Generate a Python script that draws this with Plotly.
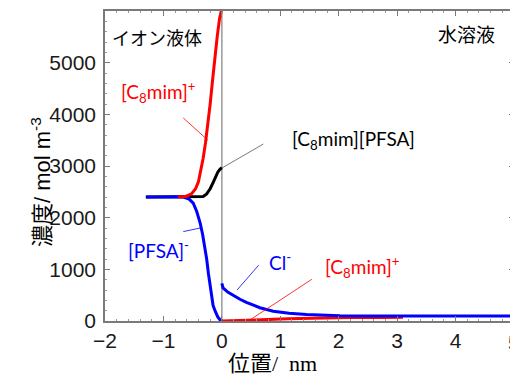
import plotly.graph_objects as go

# ---- data (position in nm, concentration in mol m^-3) ----
pair_x = [-1.3, -0.6, -0.4, -0.32, -0.26, -0.20, -0.15, -0.11, -0.07, -0.03, 0.0]
pair_y = [2400, 2400, 2400, 2410, 2460, 2560, 2680, 2790, 2880, 2940, 2965]

cat_il_x = [-0.75, -0.62, -0.52, -0.45, -0.40, -0.36, -0.32, -0.28, -0.24, -0.20, -0.16, -0.12, -0.08, -0.04, -0.01]
cat_il_y = [2400, 2410, 2460, 2560, 2700, 2900, 3150, 3450, 3800, 4200, 4650, 5100, 5500, 5850, 6000]

pfsa_x = [-1.3, -0.66, -0.56, -0.49, -0.43, -0.37, -0.33, -0.29, -0.26, -0.23, -0.20, -0.18, -0.15, -0.11, -0.07, -0.03, 0.0]
pfsa_y = [2400, 2400, 2360, 2280, 2120, 1890, 1680, 1440, 1200, 920, 680, 470, 300, 180, 80, 20, 0]

cl_x = [0.0, 0.02, 0.1, 0.2, 0.31, 0.42, 0.54, 0.65, 0.88, 1.15, 1.45, 1.75, 2.02, 2.5, 3.0, 4.0, 5.0]
cl_y = [730, 640, 560, 490, 420, 360, 305, 257, 190, 150, 125, 110, 100, 97, 95, 95, 95]

cat_aq_x = [0.0, 0.3, 0.6, 0.9, 1.13, 1.5, 1.76, 2.2, 2.7, 3.1]
cat_aq_y = [0, 8, 20, 32, 45, 55, 62, 68, 70, 72]

x_ticks = [-2, -1, 0, 1, 2, 3, 4, 5]
x_ticklabels = ["\u22122", "\u22121", "0", "1", "2", "3", "4", "5"]
y_ticks = [0, 1000, 2000, 3000, 4000, 5000]

RED = "#ff0000"
BLUE = "#0000ff"
BLACK = "#000000"
TICKFONT = dict(family="Liberation Sans", size=21, color="#1a1a1a")

fig = go.Figure()
fig.add_trace(go.Scatter(x=pair_x, y=pair_y, mode="lines", line=dict(color=BLACK, width=3), hoverinfo="skip"))
fig.add_trace(go.Scatter(x=pfsa_x, y=pfsa_y, mode="lines", line=dict(color=BLUE, width=3), hoverinfo="skip"))
fig.add_trace(go.Scatter(x=cat_il_x, y=cat_il_y, mode="lines", line=dict(color=RED, width=3), hoverinfo="skip"))
fig.add_trace(go.Scatter(x=cat_aq_x, y=cat_aq_y, mode="lines", line=dict(color=RED, width=3), hoverinfo="skip"))
fig.add_trace(go.Scatter(x=cl_x, y=cl_y, mode="lines", line=dict(color=BLUE, width=3), hoverinfo="skip"))

# interface line
fig.add_shape(type="line", xref="x", yref="paper", x0=0, x1=0, y0=0, y1=1,
              line=dict(color="#9a9a9a", width=1.5), layer="below")

# leader lines
leaders = [
    ((-0.66, 3930), (-0.24, 3500), RED),
    ((0.0, 2960), (0.71, 3425), "#555555"),
    ((-0.66, 1730), (-0.37, 1800), BLUE),
    ((0.63, 1080), (0.26, 600), BLUE),
    ((1.54, 807), (0.48, 20), RED),
]
for (x0, y0), (x1, y1), c in leaders:
    fig.add_shape(type="line", xref="x", yref="y", x0=x0, y0=y0, x1=x1, y1=y1,
                  line=dict(color=c, width=0.8))

LBL = "Lato, Noto Sans, Noto Sans CJK JP"
labels = [
    (-1.09, 4440, "[C<sub>8</sub>mim]<sup>+</sup>", RED),
    (2.25, 3500, "[C<sub>8</sub>mim][PFSA]", BLACK),
    (-1.09, 1375, "[PFSA]<sup>-</sup>", BLUE),
    (1.0, 1150, "Cl<sup>-</sup>", BLUE),
    (2.4, 1050, "[C<sub>8</sub>mim]<sup>+</sup>", RED),
]
for x, y, t, c in labels:
    fig.add_annotation(x=x, y=y, xref="x", yref="y", text=t, showarrow=False,
                       font=dict(family=LBL, size=19, color=c))

JP = "Noto Sans CJK JP"
fig.add_annotation(x=-1.11, y=5500, xref="x", yref="y", text="イオン液体", showarrow=False,
                   font=dict(family=JP, size=18, color=BLACK))
fig.add_annotation(x=4.19, y=5570, xref="x", yref="y", text="水溶液", showarrow=False,
                   font=dict(family=JP, size=19, color=BLACK))

# last x tick label sits on the page edge (partly cut, as in the original)
fig.add_annotation(x=x_ticks[-1], y=0, xref="x", yref="paper", text=x_ticklabels[-1],
                   showarrow=False, yanchor="middle", yshift=-21, font=TICKFONT)

# The page body has an 8px default margin, so the figure is shrunk by that amount.
OFF = 8
W, H = 518 - OFF, 390 - OFF
L, R, T, B = 105 - OFF, 4, 11 - OFF, 69
pw, ph = W - L - R, H - T - B


def px2paper(px, py):
    return (px - OFF - L) / pw, 1 - (py - OFF - T) / ph


tx, ty = px2paper(25, 182)
fig.add_annotation(x=tx, y=ty, xref="paper", yref="paper", text="濃度/ mol m<sup>-3</sup>",
                   showarrow=False, textangle=-90,
                   font=dict(family="Liberation Sans, Noto Sans CJK JP", size=22, color=BLACK))
tx, ty = px2paper(272, 378)
fig.add_annotation(x=tx, y=ty, xref="paper", yref="paper", text="位置/  nm", showarrow=False,
                   font=dict(family="Liberation Serif, Noto Sans CJK JP", size=22, color=BLACK))

axis_common = dict(showline=True, linecolor="#7a7a7a", linewidth=1.5, mirror="ticks",
                   ticks="inside", ticklen=5, tickcolor="#7a7a7a", tickwidth=1,
                   showgrid=False, zeroline=False, automargin=False,
                   tickfont=TICKFONT)

fig.update_xaxes(range=[-2, 5], tickvals=x_ticks, ticktext=x_ticklabels,
                 minor=dict(dtick=0.2, ticks="inside", ticklen=2, tickcolor="#9a9a9a", showgrid=False),
                 **axis_common)
fig.update_yaxes(range=[0, 6000], tickvals=y_ticks, ticklabelstandoff=3,
                 minor=dict(dtick=200, ticks="inside", ticklen=2, tickcolor="#9a9a9a", showgrid=False),
                 **axis_common)

fig.update_layout(width=W, height=H, margin=dict(l=L, r=R, t=T, b=B),
                  paper_bgcolor="white", plot_bgcolor="white", showlegend=False)

fig.write_html("out.html")
